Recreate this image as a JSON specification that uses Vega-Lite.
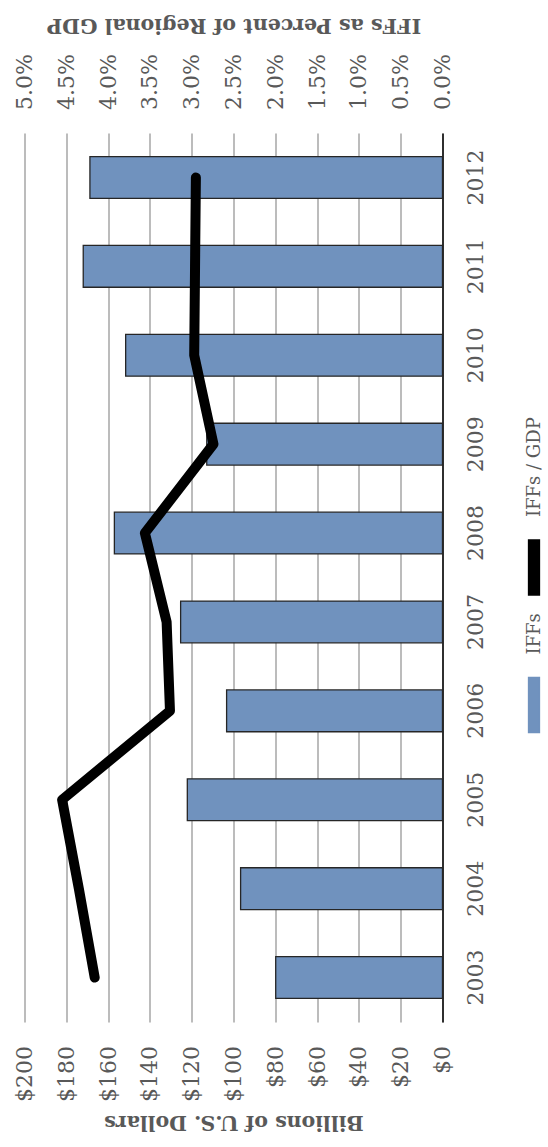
{
  "$schema": "https://vega.github.io/schema/vega-lite/v6.json",
  "width": 418,
  "height": 889,
  "autosize": "none",
  "padding": {"left": 24.5, "top": 133, "right": 105.5, "bottom": 125},
  "background": "white",
  "config": {
    "view": {"stroke": null},
    "font": "DejaVu Serif"
  },
  "data": {
    "values": [
      {"year": 2003, "iffs": 79.8, "pct": 0.0416},
      {"year": 2004, "iffs": 96.6, "pct": 0.0435},
      {"year": 2005, "iffs": 122.1, "pct": 0.0455},
      {"year": 2006, "iffs": 103.3, "pct": 0.0326},
      {"year": 2007, "iffs": 125.3, "pct": 0.0330},
      {"year": 2008, "iffs": 157.0, "pct": 0.0356},
      {"year": 2009, "iffs": 112.8, "pct": 0.0274},
      {"year": 2010, "iffs": 151.6, "pct": 0.0297},
      {"year": 2011, "iffs": 171.9, "pct": 0.0296},
      {"year": 2012, "iffs": 168.7, "pct": 0.0295}
    ]
  },
  "encoding": {
    "y": {
      "field": "year",
      "type": "ordinal",
      "sort": "descending",
      "scale": {"paddingInner": 0.53, "paddingOuter": 0.265},
      "axis": {
        "orient": "right",
        "title": null,
        "ticks": false,
        "domain": true,
        "domainColor": "#000000",
        "domainWidth": 1.5,
        "labelAngle": 270,
        "labelAlign": "center",
        "labelBaseline": "top",
        "labelPadding": 22.5,
        "labelFontSize": 22,
        "labelColor": "#595959"
      }
    }
  },
  "layer": [
    {
      "mark": {"type": "bar", "stroke": "#262626", "strokeWidth": 1.3},
      "encoding": {
        "x": {
          "field": "iffs",
          "type": "quantitative",
          "scale": {"domain": [0, 200], "reverse": true, "nice": false, "zero": true},
          "axis": {
            "orient": "bottom",
            "values": [0, 20, 40, 60, 80, 100, 120, 140, 160, 180, 200],
            "format": "$.0f",
            "grid": true,
            "gridColor": "#a6a6a6",
            "gridWidth": 1.5,
            "domain": false,
            "ticks": false,
            "labelAngle": 270,
            "labelAlign": "right",
            "labelBaseline": "middle",
            "labelPadding": 23.5,
            "labelFontSize": 22,
            "labelColor": "#595959",
            "title": "Billions of U.S. Dollars",
            "titleAngle": 180,
            "titleAlign": "center",
            "titleBaseline": "alphabetic",
            "titleX": 209,
            "titleY": 93,
            "titleFontSize": 20.5,
            "titleFontWeight": "bold",
            "titleColor": "#595959"
          }
        },
        "color": {
          "datum": "IFFs",
          "type": "nominal",
          "scale": {"domain": ["IFFs / GDP", "IFFs"], "range": ["#000000", "#7092be"]},
          "legend": {
            "orient": "none",
            "legendX": 481,
            "legendY": 406,
            "direction": "vertical",
            "title": null,
            "padding": 0,
            "symbolType": "M-0.2,-1H0.2V1H-0.2Z",
            "symbolSize": 3025,
            "symbolStrokeColor": "#262626",
            "symbolStrokeWidth": 1.3,
            "symbolOpacity": 1,
            "labelFontSize": 18,
            "labelColor": "#595959",
            "labelOffset": -27.5,
            "labelAlign": "left",
            "labelBaseline": "middle",
            "rowPadding": 14.5,
            "encode": {
              "symbols": {
                "update": {
                  "fill": {"scale": "color", "field": "value"},
                  "stroke": {"value": "#262626"},
                  "strokeWidth": {"value": 1.3},
                  "opacity": {"value": 1}
                }
              },
              "labels": {"update": {"angle": {"value": -90}, "dx": {"value": 50.5}}}
            }
          }
        }
      }
    },
    {
      "mark": {"type": "line", "strokeWidth": 10, "strokeCap": "round", "strokeJoin": "round"},
      "encoding": {
        "x": {
          "field": "pct",
          "type": "quantitative",
          "scale": {"domain": [0, 0.05], "reverse": true, "nice": false, "zero": true},
          "axis": {
            "orient": "top",
            "values": [0, 0.005, 0.01, 0.015, 0.02, 0.025, 0.03, 0.035, 0.04, 0.045, 0.05],
            "format": ".1%",
            "grid": false,
            "domain": false,
            "ticks": false,
            "labelAngle": 270,
            "labelAlign": "left",
            "labelBaseline": "middle",
            "labelPadding": 23.5,
            "labelFontSize": 22,
            "labelColor": "#595959",
            "title": "IFFs as Percent of Regional GDP",
            "titleAngle": 180,
            "titleAlign": "center",
            "titleBaseline": "alphabetic",
            "titleX": 209,
            "titleY": -115,
            "titleFontSize": 20.5,
            "titleFontWeight": "bold",
            "titleColor": "#595959"
          }
        },
        "order": {"field": "year", "type": "quantitative"},
        "color": {"datum": "IFFs / GDP", "type": "nominal"}
      }
    }
  ],
  "resolve": {"scale": {"x": "independent"}, "axis": {"x": "independent"}}
}
